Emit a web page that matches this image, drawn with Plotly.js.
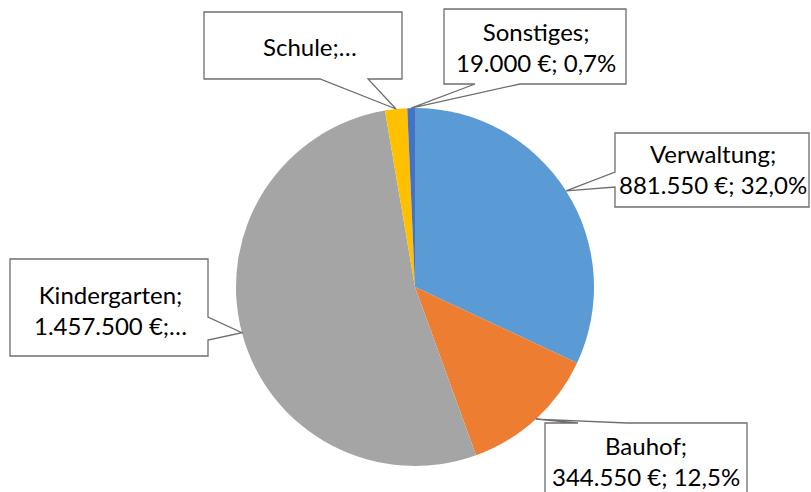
<!DOCTYPE html>
<html>
<head>
<meta charset="utf-8">
<script src="https://cdn.plot.ly/plotly-3.0.1.min.js"></script>
<style>html,body{margin:0;padding:0;background:#fff;}#chart{width:811px;height:492px;}</style>
</head>
<body>
<div id="chart"></div>
<script>
// ---- data ----
var categories = ["Verwaltung", "Bauhof", "Kindergarten", "Schule", "Sonstiges"];
var amounts = [881550, 344550, 1457500, 55000, 19000];
var sliceColors = ["#5B9BD5", "#ED7D31", "#A5A5A5", "#FFC000", "#4472C4"];
var labelText = [
  "Verwaltung;<br>881.550 €; 32,0%",
  "Bauhof;<br>344.550 €; 12,5%",
  "Kindergarten;<br>1.457.500 €;…",
  "Schule;…",
  "Sonstiges;<br>19.000 €; 0,7%"
];

// ---- layout constants (pixels) ----
var W = 811, H = 492;
var pieCx = 415, pieCy = 287, pieR = 179;
var dom = {x: [(pieCx - pieR) / W, (pieCx + pieR) / W], y: [1 - (pieCy + pieR) / H, 1 - (pieCy - pieR) / H]};

// callout boxes: box edges, side where the wedge leaves, wedge base positions, text centre
var callouts = [
  {box: [615, 133, 809, 207], side: "left",   base: [172, 187], tc: [713, 169]},
  {box: [545, 423, 747, 500], side: "top",    base: [578, 627], tc: [646, 461]},
  {box: [10, 259, 208, 356],  side: "right",  base: [317, 340], tc: [110, 310]},
  {box: [204, 12, 402, 79],   side: "bottom", base: [320, 368], tc: [310, 46]},
  {box: [444, 9, 626, 84],    side: "bottom", base: [475, 520], tc: [536, 47]}
];

function px(x) { return x / W; }
function py(y) { return 1 - y / H; }

// tip points from the data: mid-angle of each slice on the rim
var total = amounts.reduce(function (a, b) { return a + b; }, 0);
var cum = 0;
var tips = amounts.map(function (v) {
  var mid = (cum + v / 2) / total;
  cum += v;
  var ang = mid * 2 * Math.PI;
  return [pieCx + pieR * Math.sin(ang), pieCy - pieR * Math.cos(ang)];
});

var shapes = [], annotations = [];
callouts.forEach(function (c, i) {
  var x0 = c.box[0], y0 = c.box[1], x1 = c.box[2], y1 = c.box[3];
  var t = tips[i], a = c.base[0], b = c.base[1];
  var pts;
  if (c.side === "bottom") pts = [[x0, y0], [x1, y0], [x1, y1], [b, y1], t, [a, y1], [x0, y1]];
  else if (c.side === "top") pts = [[x0, y0], [a, y0], t, [b, y0], [x1, y0], [x1, y1], [x0, y1]];
  else if (c.side === "left") pts = [[x0, y0], [x1, y0], [x1, y1], [x0, y1], [x0, b], t, [x0, a]];
  else pts = [[x0, y0], [x1, y0], [x1, a], t, [x1, b], [x1, y1], [x0, y1]];
  var path = pts.map(function (p, k) { return (k ? "L" : "M") + px(p[0]).toFixed(5) + "," + py(p[1]).toFixed(5); }).join(" ") + " Z";
  shapes.push({type: "path", xref: "paper", yref: "paper", path: path,
    fillcolor: "#FFFFFF", line: {color: "#6E6E6E", width: 1.3}, layer: "above"});
  annotations.push({xref: "paper", yref: "paper", x: px(c.tc[0]), y: py(c.tc[1]),
    xanchor: "center", yanchor: "middle", showarrow: false, text: labelText[i],
    align: "center", font: {family: "Lato, 'Open Sans', sans-serif", size: 24, color: "#000000"}});
});

var trace = {
  type: "pie",
  labels: categories,
  values: amounts,
  sort: false,
  direction: "clockwise",
  rotation: 0,
  textinfo: "none",
  marker: {colors: sliceColors, line: {width: 0}},
  domain: dom,
  showlegend: false,
  hoverinfo: "label+value+percent"
};

var layout = {
  width: W, height: H,
  margin: {l: 0, r: 0, t: 0, b: 0},
  paper_bgcolor: "#FFFFFF",
  plot_bgcolor: "#FFFFFF",
  showlegend: false,
  shapes: shapes,
  annotations: annotations
};

Plotly.newPlot("chart", [trace], layout, {staticPlot: true, displayModeBar: false});
</script>
</body>
</html>
